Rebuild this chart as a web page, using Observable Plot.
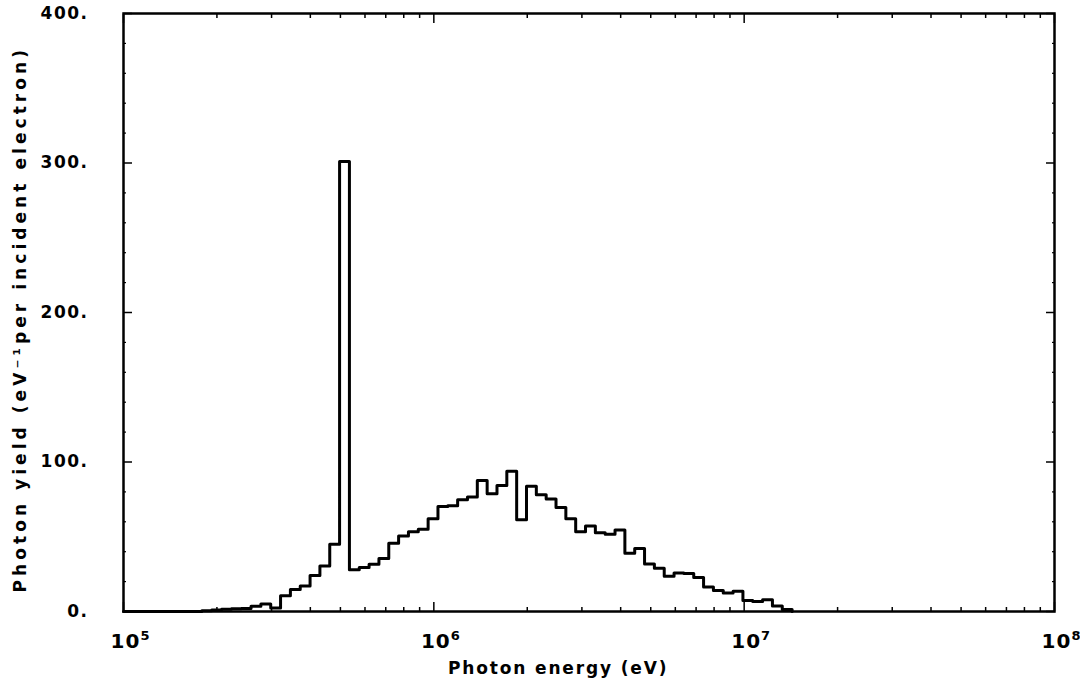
<!DOCTYPE html>
<html><head><meta charset="utf-8">
<script src="https://cdn.jsdelivr.net/npm/d3@7"></script>
<script src="https://cdn.jsdelivr.net/npm/@observablehq/plot@0.6"></script>
<style>body{margin:0;background:#fff} svg{display:block}
text.xexp{font-size:20px !important;letter-spacing:1px !important}
text.xexp tspan{font-size:13px !important}
</style>
</head><body><div id="chart"></div>
<script>
// Histogram bins: equal widths in log10(energy)
const firstBinLog10 = 5.2525;   // log10 of lower edge (eV) of first non-empty bin
const binWidthLog10 = 0.0317;   // bin width in decades
// Photon yield per bin (eV^-1 per incident electron)
const photonYield = [
  0.5, 1, 1.5, 1.8, 2, 3.5, 5, 2.3, 10.5, 14.7, 17, 24, 30.5, 45,
  301,
  28, 29.4, 31.6, 35.5, 45.6, 50.5, 53.4, 55, 62, 70.2,
  70.7, 74.7, 76.6, 87.7, 78.8, 84.2, 93.8, 61.3, 83.7, 78.1,
  75.2, 69.6, 62, 53.4, 57.2, 52.7, 51.6, 54.5, 38.9, 42.2,
  31.8, 28.9, 23.6, 25.8, 25.4, 22.7, 16.4, 14.1, 12.3, 13.5,
  7.4, 6.7, 7.9, 3.6, 1.3
];
const xDomain = [1e5, 1e8];
const yDomain = [0, 400];
const xMajorTicks = [1e5, 1e6, 1e7, 1e8];
const xMinorMultipliers = [2, 3, 4, 5, 6, 7, 8, 9];
const yMajorTicks = [0, 100, 200, 300, 400];
const yMinorStep = 20;
const xTitle = "Photon energy (eV)";
const yTitle = "Photon yield (eV⁻¹per incident electron)";

const xMinorTicks = [1e5, 1e6, 1e7].flatMap(d => xMinorMultipliers.map(m => m * d));
const yMinorTicks = d3.range(yDomain[0], yDomain[1] + 1, yMinorStep).filter(v => !yMajorTicks.includes(v));

const edges = photonYield.map((_, i) => 10 ** (firstBinLog10 + i * binWidthLog10));
const lastEdge = 10 ** (firstBinLog10 + photonYield.length * binWidthLog10);
const steps = [{energy: xDomain[0], value: 0}]
  .concat(photonYield.map((v, i) => ({energy: edges[i], value: v})))
  .concat([{energy: lastEdge, value: 0}]);

const blank = () => "";
const plot = Plot.plot({
  width: 1080, height: 688,
  marginLeft: 123, marginRight: 26, marginTop: 13, marginBottom: 77,
  style: {fontFamily: "DejaVu Sans", fontWeight: "bold", fontSize: "17px", color: "#000", background: "#fff"},
  x: {type: "log", domain: xDomain},
  y: {domain: yDomain},
  marks: [
    // bottom axis
    Plot.axisX({anchor: "bottom", ticks: xMajorTicks, tickSize: 0, tickPadding: 22, dx: 7,
      tickFormat: d => "10^" + Math.round(Math.log10(d)), label: null}),
    Plot.axisX({anchor: "bottom", ticks: xMajorTicks, tickSize: -9, tickFormat: blank, label: null, strokeWidth: 1.5}),
    Plot.axisX({anchor: "bottom", ticks: xMinorTicks, tickSize: -4, tickFormat: blank, label: null, strokeWidth: 1.5}),
    // top axis (mirror ticks)
    Plot.axisX({anchor: "top", ticks: xMajorTicks, tickSize: -9, tickFormat: blank, label: null, strokeWidth: 1.5}),
    Plot.axisX({anchor: "top", ticks: xMinorTicks, tickSize: -4, tickFormat: blank, label: null, strokeWidth: 1.5}),
    // left axis
    Plot.axisY({anchor: "left", ticks: yMajorTicks, tickSize: 0, tickPadding: 35, tickFormat: d => d + ".", label: null}),
    Plot.axisY({anchor: "left", ticks: yMajorTicks, tickSize: -9, tickFormat: blank, label: null, strokeWidth: 1.5}),
    Plot.axisY({anchor: "left", ticks: yMinorTicks, tickSize: -3, tickFormat: blank, label: null, strokeWidth: 1.2}),
    // right axis (mirror ticks)
    Plot.axisY({anchor: "right", ticks: yMajorTicks, tickSize: -9, tickFormat: blank, label: null, strokeWidth: 1.5}),
    Plot.axisY({anchor: "right", ticks: yMinorTicks, tickSize: -3, tickFormat: blank, label: null, strokeWidth: 1.2}),
    // histogram
    Plot.line(steps, {x: "energy", y: "value", curve: "step-after", stroke: "#000", strokeWidth: 3}),
    Plot.frame({stroke: "#000", strokeWidth: 2.5}),
    // titles
    Plot.text([xTitle], {frameAnchor: "bottom", dy: 62, dx: -31, text: d => d, fontSize: 17, textAnchor: "middle", className: "xtitle"}),
    Plot.text([yTitle], {frameAnchor: "left", rotate: -90, dx: -103, dy: 8, text: d => d, fontSize: 17, textAnchor: "middle", className: "ytitle"})
  ]
});
plot.style.letterSpacing = "1.5px";
// render exponents as raised superscripts, with larger tick numerals
d3.select(plot).selectAll("text").each(function() {
  const m = /^10\^(\d)$/.exec(this.textContent);
  if (!m) return;
  const t = d3.select(this);
  t.text("10").classed("xexp", true).attr("font-size", 20);
  t.append("tspan").attr("dy", "-0.6em").attr("font-size", 13).text(m[1]);
});
d3.select(plot).selectAll(".xtitle text").attr("textLength", 220).attr("lengthAdjust", "spacing");
d3.select(plot).selectAll(".ytitle text").attr("textLength", 544).attr("lengthAdjust", "spacing");
document.getElementById("chart").append(plot);
</script>
</body></html>
